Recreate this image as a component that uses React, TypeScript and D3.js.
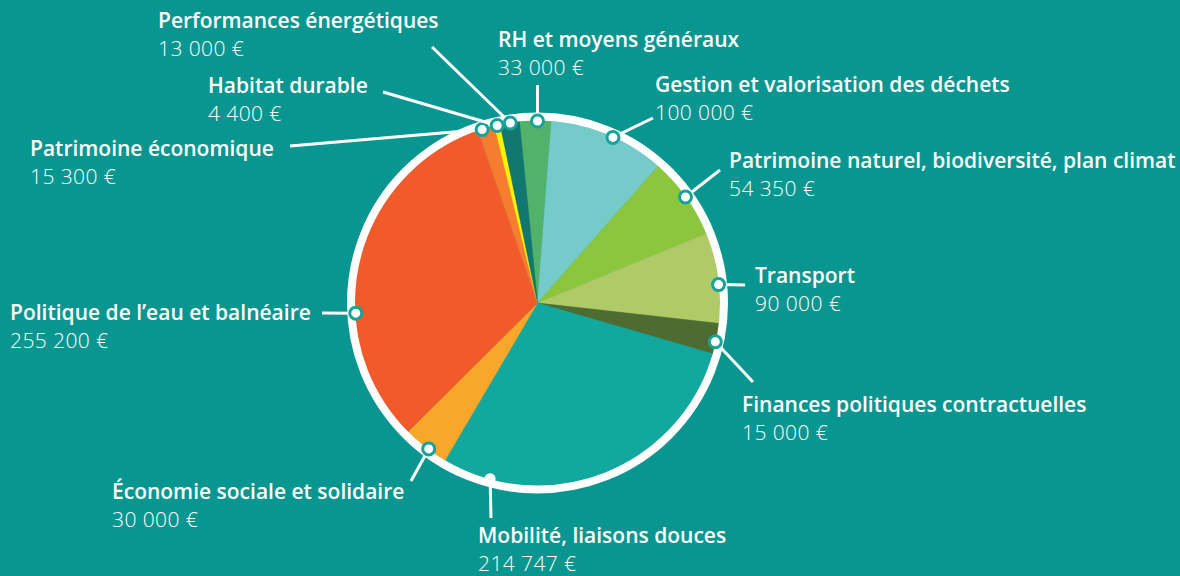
import React from 'react';
import * as d3 from 'd3';

// ---- data ----
const categories = [
  'RH et moyens généraux',
  'Gestion et valorisation des déchets',
  'Patrimoine naturel, biodiversité, plan climat',
  'Transport',
  'Finances politiques contractuelles',
  'Mobilité, liaisons douces',
  'Économie sociale et solidaire',
  'Politique de l’eau et balnéaire',
  'Patrimoine économique',
  'Habitat durable',
  'Performances énergétiques',
];
const amounts = [33000, 100000, 54350, 90000, 15000, 214747, 30000, 255200, 15300, 4400, 13000];
// share of the circle as drawn in the picture (%)
const drawnShares = [2.8, 10.3, 7.3, 8.0, 2.7, 29.0, 4.1, 32.2, 1.5, 0.5, 1.7];
const colors = [
  '#52b26b', '#74cbc9', '#8cc63f', '#afca67', '#4e6b31', '#13a89e',
  '#f9a72b', '#f15a2b', '#f47d30', '#fff200', '#11776f',
];

// ---- layout ----
const W = 1180;
const H = 576;
const BG = '#0a9690';
const cx = 537.5;
const cy = 303;
const R = 183;
const START = (-5.7 * Math.PI) / 180;

// label layout: text x, name baseline y, marker angle (deg), leader end point
const labelLayout = [
  { x: 498, y: 47, a: 0, end: [537.5, 85] },
  { x: 655, y: 92, a: 24.5, end: [653, 118] },
  { x: 729, y: 168, a: 54.4, end: [720, 170] },
  { x: 755, y: 283, a: 84.2, end: [745, 285] },
  { x: 742, y: 412, a: 102.3, end: [753, 382] },
  { x: 478, y: 543, a: 195.1, end: [491, 518], plain: true },
  { x: 112, y: 499, a: 216.7, end: [411, 481] },
  { x: 10, y: 320, a: 266.8, end: [322, 313] },
  { x: 30, y: 156, a: -17.7, end: [290, 146] },
  { x: 208, y: 93, a: -12.8, end: [383, 92] },
  { x: 158, y: 28, a: -8.6, end: [432, 47] },
];

const locale = d3.formatLocale({
  decimal: ',',
  thousands: '\u00a0',
  grouping: [3],
  currency: ['', '\u00a0€'],
});
const fmt = locale.format('$,');

const FONT = '"Open Sans", Lato, "DejaVu Sans", sans-serif';

export default function App() {
  const items = categories.map((name, i) => ({
    name,
    amount: amounts[i],
    share: drawnShares[i],
    color: colors[i],
    layout: labelLayout[i],
  }));

  const pie = d3
    .pie<any>()
    .value((d) => d.share)
    .sort(null)
    .startAngle(START)
    .endAngle(START + 2 * Math.PI);
  const arcs = pie(items);
  const arc = d3.arc<any>().innerRadius(0).outerRadius(R);

  const markerR = 182;
  const pt = (deg: number) => {
    const rad = (deg * Math.PI) / 180;
    return [cx + markerR * Math.sin(rad), cy - markerR * Math.cos(rad)];
  };

  return (
    <svg
      width={W}
      height={H}
      viewBox={`0 0 ${W} ${H}`}
      style={{ position: 'absolute', left: 0, top: 0, display: 'block' }}
    >
      <rect x={0} y={0} width={W} height={H} fill={BG} />
      <g transform={`translate(${cx},${cy})`}>
        {arcs.map((a, i) => (
          <path key={i} d={arc(a) as string} fill={a.data.color} stroke={a.data.color} strokeWidth={0.5} />
        ))}
      </g>
      <circle cx={cx} cy={cy} r={186.5} fill="none" stroke="#ffffff" strokeWidth={8} />
      {items.map((d, i) => {
        const [mx, my] = pt(d.layout.a);
        return (
          <g key={`l${i}`}>
            <line
              x1={mx}
              y1={my}
              x2={d.layout.end[0]}
              y2={d.layout.end[1]}
              stroke="#ffffff"
              strokeWidth={3}
            />
            {d.layout.plain ? (
              <circle cx={mx} cy={my} r={5.5} fill="#ffffff" />
            ) : (
              <circle cx={mx} cy={my} r={6} fill="#ffffff" stroke="#17a29a" strokeWidth={3} />
            )}
          </g>
        );
      })}
      {items.map((d, i) => (
        <g key={`t${i}`} fontFamily={FONT} fill="#ffffff">
          <text x={d.layout.x} y={d.layout.y} fontSize={21} fontWeight={600}>
            {d.name}
          </text>
          <text x={d.layout.x} y={d.layout.y + 28} fontSize={21} fontWeight={300} letterSpacing={0.4}>
            {fmt(d.amount)}
          </text>
        </g>
      ))}
    </svg>
  );
}
